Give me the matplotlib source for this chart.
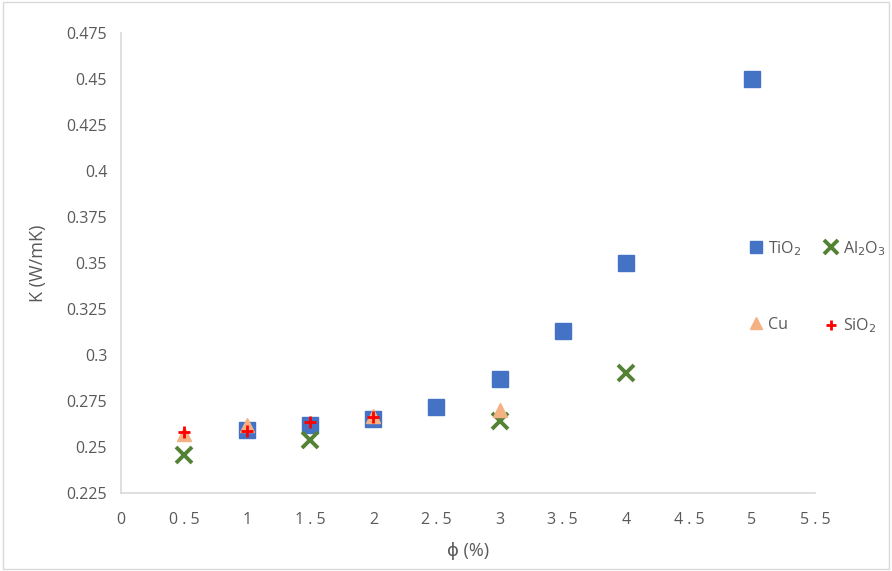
import matplotlib.pyplot as plt

plt.rcParams['font.family'] = ['Open Sans', 'DejaVu Sans']

tio2_x = [1, 1.5, 2, 2.5, 3, 3.5, 4, 5]
tio2_y = [0.2595, 0.262, 0.265, 0.272, 0.287, 0.313, 0.350, 0.450]
al2o3_x = [0.5, 1.5, 3, 4]
al2o3_y = [0.2455, 0.254, 0.264, 0.290]
cu_x = [0.5, 1, 2, 3]
cu_y = [0.257, 0.262, 0.267, 0.270]
sio2_x = [0.5, 1, 1.5, 2]
sio2_y = [0.258, 0.2585, 0.2635, 0.2665]

xticks = [0, 0.5, 1, 1.5, 2, 2.5, 3, 3.5, 4, 4.5, 5, 5.5]
yticks = [0.225, 0.25, 0.275, 0.3, 0.325, 0.35, 0.375, 0.4, 0.425, 0.45, 0.475]

gray = '#595959'
fig = plt.figure(figsize=(8.92, 5.71), dpi=100)
ax = fig.add_axes([0.1357, 0.1366, 0.778, 0.8056])

h1, = ax.plot(tio2_x, tio2_y, 's', color='#4472C4', markersize=11, label='TiO$_2$', linestyle='none')
h2, = ax.plot(al2o3_x, al2o3_y, 'x', color='#548235', markersize=12, markeredgewidth=2.8,
              label='Al$_2$O$_3$', linestyle='none')
h3, = ax.plot(cu_x, cu_y, '^', color='#F4B183', markersize=10, label='Cu', linestyle='none')
h4, = ax.plot(sio2_x, sio2_y, '+', color='#FF0000', markersize=9, markeredgewidth=2,
              label='SiO$_2$', linestyle='none')

ax.set_xlim(0, 5.5)
ax.set_ylim(0.225, 0.475)
ax.set_xticks(xticks)
ax.set_xticklabels([' '.join(f'{t:g}') for t in xticks])
ax.set_yticks(yticks)
ax.set_yticklabels([f'{t:g}' for t in yticks])
ax.tick_params(length=0, colors=gray, labelsize=11.5, pad=10)
ax.tick_params(axis='x', pad=14)

for s in ['top', 'right']:
    ax.spines[s].set_visible(False)
for s in ['left', 'bottom']:
    ax.spines[s].set_color('#d9d9d9')
    ax.spines[s].set_linewidth(1.2)

ax.set_xlabel('ϕ (%)', color=gray, fontsize=13, labelpad=10)
ax.set_ylabel('K (W/mK)', color=gray, fontsize=13, labelpad=14)

# row-major order like the original: TiO2, Al2O3 / Cu, SiO2
handles = [h1, h3, h2, h4]
labels = [h.get_label() for h in handles]
fig.legend(handles, labels, ncol=2, loc='center left',
           bbox_to_anchor=(0.822, 0.497), frameon=False, markerscale=0.8,
           labelspacing=3.7, handletextpad=0.2, columnspacing=1.3,
           handlelength=1.1, fontsize=11.5, labelcolor=gray)

fig.patches.append(plt.Rectangle((0.003, 0.003), 0.994, 0.994, transform=fig.transFigure,
                                 fill=False, edgecolor='#d9d9d9', linewidth=1))

fig.savefig('out.png', dpi=100)
